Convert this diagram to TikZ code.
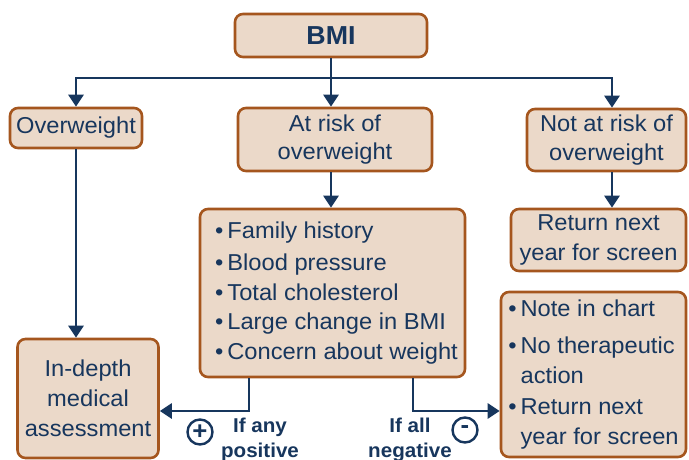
\documentclass[tikz,border=0pt]{standalone}
\usepackage{fontspec}
\setmainfont{Liberation Sans}[FakeStretch=1.03]
\usetikzlibrary{arrows.meta}
\definecolor{boxfill}{HTML}{EBD9C9}
\definecolor{boxline}{HTML}{A5561E}
\definecolor{navy}{HTML}{17365D}
\begin{document}
\begin{tikzpicture}[x=1pt,y=-1pt,
 box/.style={draw=boxline, fill=boxfill, line width=2.6pt, rounded corners=8pt, inner sep=0pt, text=navy, align=center, font=\fontsize{23}{29}\selectfont},
 line/.style={draw=navy, line width=2.6pt},
 conn/.style={line, -{Triangle[length=12pt,width=15pt]}},
 lbl/.style={text=navy, font=\bfseries\fontsize{20}{25}\selectfont, align=center, inner sep=0pt, anchor=north},
 sign/.style={circle, draw=navy, line width=2.4pt, minimum size=25pt, inner sep=0pt, text=navy, font=\bfseries\fontsize{25}{25}\selectfont}]
\useasboundingbox (0,0) rectangle (689,460);
\clip (0,0) rectangle (689,460);

\node[box, minimum width=192pt, minimum height=43pt, font=\bfseries\fontsize{26}{30}\selectfont] (bmi) at (331,35.5) {BMI};
\node[box, minimum width=132pt, minimum height=40pt] (ow) at (76,128) {Overweight};
\node[box, minimum width=194pt, minimum height=63pt, font=\fontsize{23}{28}\selectfont] (risk) at (335,139.5) {At risk of\\overweight};
\node[box, minimum width=159pt, minimum height=62pt] (notrisk) at (606.5,140) {Not at risk of\\overweight};
\node[box, minimum width=175pt, minimum height=62pt, font=\fontsize{23}{30}\selectfont] (ret) at (598.5,240) {Return next\\year for screen};
\node[box, minimum width=265pt, minimum height=168pt, font=\fontsize{23}{29.5}\selectfont] (mid) at (332.5,293)
 {\hspace*{8pt}\begin{tabular}{@{}l@{\hspace{4pt}}l@{}}
 •&Family history\\[2.5pt]
 •&Blood pressure\\
 •&Total cholesterol\\
 •&Large change in BMI\\
 •&Concern about weight
 \end{tabular}};
\node[box, minimum width=141pt, minimum height=119pt, font=\fontsize{23}{30}\selectfont] (indepth) at (88,398.5) {In-depth\\medical\\assessment};
\node[box, minimum width=185pt, minimum height=165pt, font=\fontsize{23}{30.5}\selectfont] (right) at (593.5,374.5)
 {\begin{tabular}{@{}l@{\hspace{4pt}}l@{}}
 •&Note in chart\\[6pt]
 •&No therapeutic\\
 &action\\
 •&Return next\\
 &year for screen
 \end{tabular}};

\coordinate (j) at (331,78);
\coordinate (jr) at (612,78);
\draw[line] (bmi.south) -- (j);
\draw[line, line cap=rect] (ow.north |- j) -- (jr);
\draw[conn] (ow.north |- j) -- (ow.north);
\draw[conn] (j) -- (j |- risk.north);
\draw[conn] (jr) -- (jr |- notrisk.north);
\draw[conn] (331,0 |- risk.south) -- (331,0 |- mid.north);
\draw[conn] (612,0 |- notrisk.south) -- (612,0 |- ret.north);
\draw[conn] (ow.south) -- (ow.south |- indepth.north);
\draw[conn] (249,0 |- mid.south) |- (indepth.east |- 0,411);
\draw[conn] (413,0 |- mid.south) |- (right.west |- 0,411);

\node[lbl] (anypos) at (260,418) {If any\\positive};
\node[lbl] (allneg) at (410,418) {If all\\negative};
\node[sign] (plus) at (200,432) {+};
\node[sign] (minus) at (465,430) {-};
\end{tikzpicture}
\end{document}
